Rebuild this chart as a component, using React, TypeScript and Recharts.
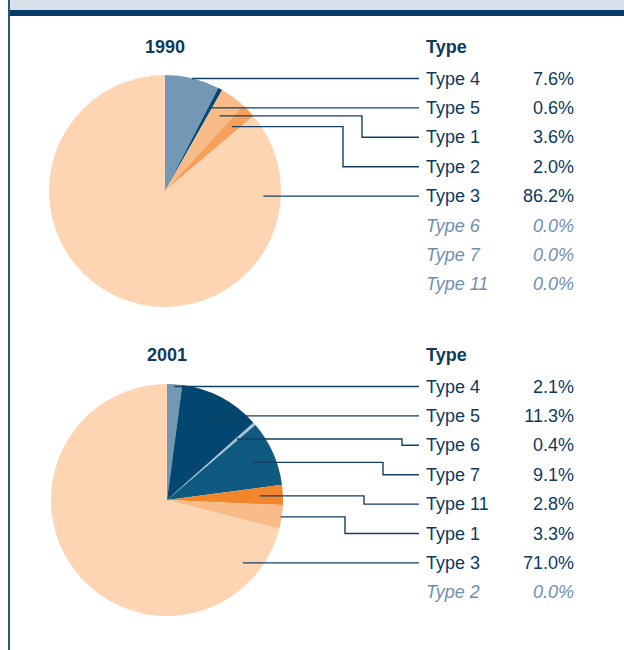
import React from 'react';
import { PieChart, Pie, Cell } from 'recharts';

// shares per type, in the order the slices run clockwise from 12 o'clock
const TYPES_1990 = ['Type 4', 'Type 5', 'Type 1', 'Type 2', 'Type 3', 'Type 6', 'Type 7', 'Type 11'];
const SHARE_1990 = [7.6, 0.6, 3.6, 2.0, 86.2, 0, 0, 0];

const TYPES_2001 = ['Type 4', 'Type 5', 'Type 6', 'Type 7', 'Type 11', 'Type 1', 'Type 3', 'Type 2'];
const SHARE_2001 = [2.1, 11.3, 0.4, 9.1, 2.8, 3.3, 71.0, 0];

const TYPE_COLORS: Record<string, string> = {
  'Type 1': '#f9bb87',
  'Type 2': '#f7a05c',
  'Type 3': '#fdd5b2',
  'Type 4': '#7398b6',
  'Type 5': '#03466f',
  'Type 6': '#a8c0d4',
  'Type 7': '#0e5a81',
  'Type 11': '#f3852b',
};

const FONT = '"Liberation Sans", Arial, sans-serif';
const TEXT = '#0d3a5e';
const MUTED = '#6f8fb0';
const LINE = '#123f66';
const ROW = 29.4;
const ROW_TOP = 48.5; // first legend row, relative to chart top
const LINE_END = 419;
const RAD = Math.PI / 180;

type Block = {
  year: string;
  names: string[];
  shares: number[];
  top: number;
  cx: number;
  cy: number;
  elbowStart: number;
};

const BLOCKS: Block[] = [
  { year: '1990', names: TYPES_1990, shares: SHARE_1990, top: 30, cx: 165, cy: 161, elbowStart: 362 },
  { year: '2001', names: TYPES_2001, shares: SHARE_2001, top: 338, cx: 167, cy: 162, elbowStart: 402 },
];

// works out the leader line for every slice so elbows can be stacked
function leaderPaths(values: number[], cx: number, cy: number, r: number, elbowStart: number) {
  const total = values.reduce((a, b) => a + b, 0);
  let acc = 0;
  let k = 0;
  return values.map((v, i) => {
    const ext = (v / total) * 360;
    const mid = (acc + ext / 2) * RAD;
    acc += ext;
    const ly = ROW_TOP + i * ROW;
    if (ext > 90) {
      const rho = 0.85 * r;
      const dy = cy - ly;
      const dx = Math.sqrt(Math.max(rho * rho - dy * dy, 0));
      return `M${cx + dx},${ly}H${LINE_END}`;
    }
    const c = Math.cos(mid);
    const s = Math.sin(mid);
    let rho = Math.abs(c) > 1e-6 ? (cy - ly) / c : 0.8 * r;
    rho = Math.min(Math.max(rho, 0.8 * r), 0.99 * r);
    const ax = cx + rho * s;
    const ay = cy - rho * c;
    if (Math.abs(ay - ly) < 3) return `M${ax},${ly}H${LINE_END}`;
    const ex = elbowStart - 19 * k;
    k += 1;
    return `M${ax},${ay}H${ex}V${ly}H${LINE_END}`;
  });
}

const YearPie: React.FC<{ block: Block }> = ({ block }) => {
  const rows = block.names.map((name, i) => ({ name, value: block.shares[i] }));
  const data = rows.filter((d) => d.value > 0);
  const values = data.map((d) => d.value);

  const renderLeader = (props: any) => {
    const paths = leaderPaths(values, props.cx, props.cy, props.outerRadius, block.elbowStart);
    return <path d={paths[props.index]} stroke={LINE} strokeWidth={1.4} fill="none" />;
  };

  return (
    <div style={{ position: 'absolute', left: 0, top: block.top, width: 624, height: 310 }}>
      <PieChart width={624} height={310} margin={{ top: 0, right: 0, bottom: 0, left: 0 }}>
        <Pie
          data={data}
          dataKey="value"
          nameKey="name"
          cx={block.cx}
          cy={block.cy}
          outerRadius={116}
          startAngle={90}
          endAngle={-270}
          stroke="none"
          label={renderLeader}
          labelLine={false}
          isAnimationActive={false}
        >
          {data.map((d) => (
            <Cell key={d.name} fill={TYPE_COLORS[d.name]} />
          ))}
        </Pie>
      </PieChart>
      <svg width={624} height={310} style={{ position: 'absolute', left: 0, top: 0, pointerEvents: 'none' }}>
        <text x={block.cx} y={17} textAnchor="middle" dominantBaseline="central" fontFamily={FONT} fontSize={18} fontWeight="bold" fill={TEXT}>
          {block.year}
        </text>
        <text x={426} y={17} dominantBaseline="central" fontFamily={FONT} fontSize={18} fontWeight="bold" fill={TEXT}>
          Type
        </text>
        {rows.map((d, i) => {
          const zero = d.value === 0;
          const y = ROW_TOP + i * ROW;
          return (
            <g key={d.name} fontFamily={FONT} fontSize={18} fontStyle={zero ? 'italic' : 'normal'} fill={zero ? MUTED : TEXT}>
              <text x={426} y={y} dominantBaseline="central">{d.name}</text>
              <text x={574} y={y} textAnchor="end" dominantBaseline="central">{d.value.toFixed(1)}%</text>
            </g>
          );
        })}
      </svg>
    </div>
  );
};

export default function App() {
  return (
    <div style={{ position: 'absolute', left: 0, top: 0, width: 624, height: 650, background: '#fff', overflow: 'hidden' }}>
      <div style={{ position: 'absolute', left: 10, top: 0, width: 614, height: 10, background: '#d6e0ea' }} />
      <div style={{ position: 'absolute', left: 10, top: 10, width: 614, height: 6, background: '#053d66' }} />
      <div style={{ position: 'absolute', left: 8, top: 0, width: 2, height: 650, background: '#2f5679' }} />
      {BLOCKS.map((b) => (
        <YearPie key={b.year} block={b} />
      ))}
    </div>
  );
}
